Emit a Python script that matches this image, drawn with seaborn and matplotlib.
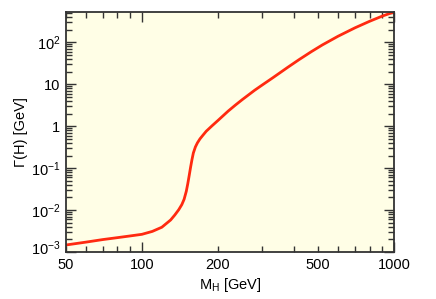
import numpy as np
import pandas as pd
import matplotlib
matplotlib.use("Agg")
import matplotlib.pyplot as plt
import matplotlib.ticker as mticker
import matplotlib.transforms as mtransforms
import seaborn as sns

# Higgs mass [GeV] and total width [GeV]
mass = [50, 60, 70, 80, 90, 100, 110, 120, 130, 135, 140, 144, 147, 150, 152,
        154, 156, 158, 160, 163, 166, 170, 175, 180, 190, 200, 210, 220, 235,
        250, 280, 300, 330, 380, 420, 470, 520, 600, 700, 800, 900, 1000]
width = [1.47e-3, 1.72e-3, 1.98e-3, 2.2e-3, 2.42e-3, 2.64e-3, 3.1e-3, 3.9e-3,
         5.8e-3, 7.6e-3, 1.02e-2, 1.35e-2, 1.8e-2, 2.8e-2, 4.2e-2,
         6.6e-2, 0.105, 0.16, 0.23, 0.32, 0.40, 0.50, 0.62, 0.76, 1.03, 1.36,
         1.78, 2.3, 3.2, 4.3, 7.2, 9.6, 14.2, 25.7, 38.7, 60, 87, 140, 222,
         318, 425, 530]

x_ticklabels = {50: "50", 100: "100", 200: "200", 500: "500", 1000: "1000"}
y_ticklabels = {1e-3: r"$10^{-3}$", 1e-2: r"$10^{-2}$", 1e-1: r"$10^{-1}$",
                1: "1", 10: "10", 100: r"$10^{2}$"}

sns.set_theme(style="ticks")
plt.rcParams["font.family"] = ["Liberation Sans", "DejaVu Sans"]
plt.rcParams["mathtext.fontset"] = "custom"
plt.rcParams["mathtext.rm"] = "Liberation Sans"
plt.rcParams["mathtext.it"] = "Liberation Sans:italic"
plt.rcParams["mathtext.default"] = "rm"

df = pd.DataFrame({"mass": mass, "width": width})

fig = plt.figure(figsize=(4.36, 2.99), dpi=100)
ax = fig.add_axes([66 / 436, 1 - 252 / 299, 328 / 436, 240 / 299])
ax.set_facecolor("#fffee6")

sns.lineplot(data=df, x="mass", y="width", ax=ax, color="#ff2a10",
             linewidth=2.0, sort=False)

ax.set_xscale("log")
ax.set_yscale("log")
ax.set_xlim(50, 1000)
ax.set_ylim(1e-3, 530)

ax.xaxis.set_major_locator(mticker.FixedLocator([100, 1000]))
ax.xaxis.set_minor_locator(mticker.FixedLocator([50, 60, 70, 80, 90, 200, 300, 400,
                                                  500, 600, 700, 800, 900]))
ax.xaxis.set_major_formatter(mticker.FuncFormatter(lambda v, p: x_ticklabels.get(int(round(v)), "")))
ax.xaxis.set_minor_formatter(mticker.FuncFormatter(lambda v, p: x_ticklabels.get(int(round(v)), "")))

ax.yaxis.set_major_locator(mticker.LogLocator(base=10, numticks=20))
ax.yaxis.set_minor_locator(mticker.LogLocator(base=10, subs=np.arange(2, 10), numticks=20))
def yfmt(v, p):
    for k, s in y_ticklabels.items():
        if abs(np.log10(v) - np.log10(k)) < 1e-6:
            return s
    return ""
ax.yaxis.set_major_formatter(mticker.FuncFormatter(yfmt))
ax.yaxis.set_minor_formatter(mticker.NullFormatter())

ax.tick_params(which="both", direction="in", top=True, right=True,
               color="#333333", width=1.0, labelsize=10.5, labelcolor="black")
ax.tick_params(axis="x", which="both", pad=4)
ax.tick_params(axis="y", which="both", pad=4)
ax.tick_params(which="major", length=7)
ax.tick_params(which="minor", length=4)
for s in ax.spines.values():
    s.set_color("#333333")
    s.set_linewidth(1.3)

ax.set_xlabel(r"M$_{\mathrm{H}}$ [GeV]", fontsize=10.5, color="black", labelpad=3)
ax.set_ylabel("Γ(H) [GeV]", fontsize=10.5, color="black", labelpad=2)

# lift the bottom-most y label a little, as in the reference
fig.canvas.draw()
for tick in ax.yaxis.get_major_ticks():
    if abs(tick.get_loc() - 1e-3) < 1e-9:
        lab = tick.label1
        lab.set_transform(lab.get_transform() +
                          mtransforms.ScaledTranslation(0, 5 / 100, fig.dpi_scale_trans))

fig.savefig("out.png", dpi=100, facecolor="white")
